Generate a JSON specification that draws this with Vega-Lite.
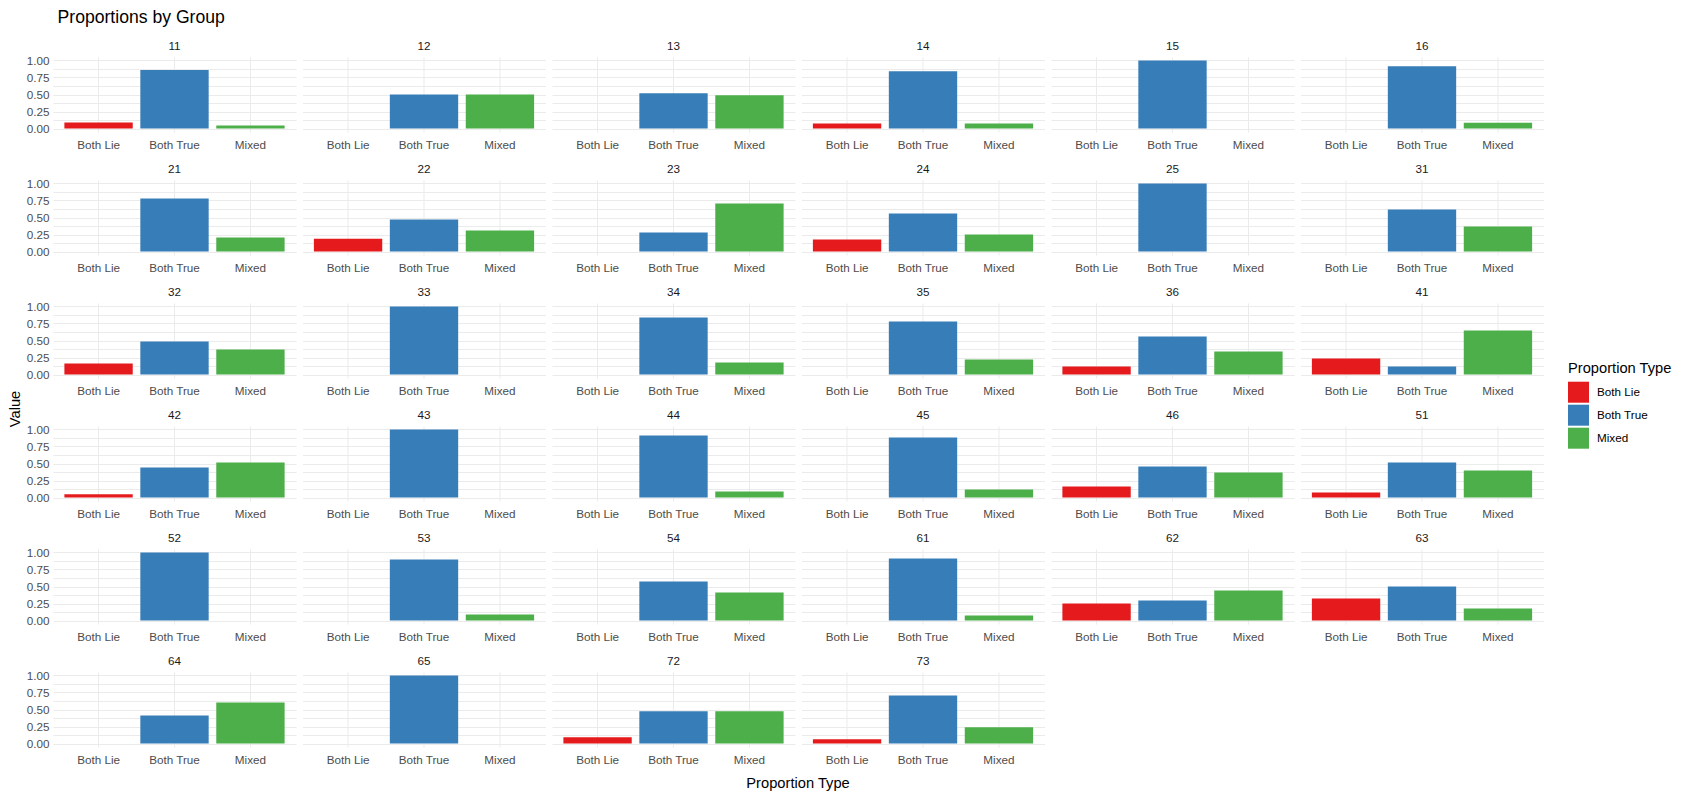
{
  "$schema": "https://vega.github.io/schema/vega-lite/v6.json",
  "padding": {"left": 7, "top": 8, "right": 5, "bottom": 5},
  "title": {"text": "Proportions by Group", "anchor": "start", "fontSize": 17.6, "fontWeight": "normal", "color": "#000000", "font": "Liberation Sans", "offset": 15, "dx": 50},
  "vconcat": [{
  "data": {"values": [
    {"group": "11", "type": "Both Lie", "value": 0.09}, {"group": "11", "type": "Both True", "value": 0.86}, {"group": "11", "type": "Mixed", "value": 0.045},
    {"group": "12", "type": "Both Lie", "value": 0}, {"group": "12", "type": "Both True", "value": 0.5}, {"group": "12", "type": "Mixed", "value": 0.5},
    {"group": "13", "type": "Both Lie", "value": 0}, {"group": "13", "type": "Both True", "value": 0.517}, {"group": "13", "type": "Mixed", "value": 0.488},
    {"group": "14", "type": "Both Lie", "value": 0.074}, {"group": "14", "type": "Both True", "value": 0.842}, {"group": "14", "type": "Mixed", "value": 0.074},
    {"group": "15", "type": "Both Lie", "value": 0}, {"group": "15", "type": "Both True", "value": 1.0}, {"group": "15", "type": "Mixed", "value": 0},
    {"group": "16", "type": "Both Lie", "value": 0}, {"group": "16", "type": "Both True", "value": 0.913}, {"group": "16", "type": "Mixed", "value": 0.087},
    {"group": "21", "type": "Both Lie", "value": 0}, {"group": "21", "type": "Both True", "value": 0.78}, {"group": "21", "type": "Mixed", "value": 0.206},
    {"group": "22", "type": "Both Lie", "value": 0.19}, {"group": "22", "type": "Both True", "value": 0.47}, {"group": "22", "type": "Mixed", "value": 0.31},
    {"group": "23", "type": "Both Lie", "value": 0}, {"group": "23", "type": "Both True", "value": 0.28}, {"group": "23", "type": "Mixed", "value": 0.706},
    {"group": "24", "type": "Both Lie", "value": 0.176}, {"group": "24", "type": "Both True", "value": 0.559}, {"group": "24", "type": "Mixed", "value": 0.25},
    {"group": "25", "type": "Both Lie", "value": 0}, {"group": "25", "type": "Both True", "value": 1.0}, {"group": "25", "type": "Mixed", "value": 0},
    {"group": "31", "type": "Both Lie", "value": 0}, {"group": "31", "type": "Both True", "value": 0.618}, {"group": "31", "type": "Mixed", "value": 0.368},
    {"group": "32", "type": "Both Lie", "value": 0.162}, {"group": "32", "type": "Both True", "value": 0.485}, {"group": "32", "type": "Mixed", "value": 0.368},
    {"group": "33", "type": "Both Lie", "value": 0}, {"group": "33", "type": "Both True", "value": 1.0}, {"group": "33", "type": "Mixed", "value": 0},
    {"group": "34", "type": "Both Lie", "value": 0}, {"group": "34", "type": "Both True", "value": 0.838}, {"group": "34", "type": "Mixed", "value": 0.176},
    {"group": "35", "type": "Both Lie", "value": 0}, {"group": "35", "type": "Both True", "value": 0.779}, {"group": "35", "type": "Mixed", "value": 0.22},
    {"group": "36", "type": "Both Lie", "value": 0.118}, {"group": "36", "type": "Both True", "value": 0.559}, {"group": "36", "type": "Mixed", "value": 0.338},
    {"group": "41", "type": "Both Lie", "value": 0.235}, {"group": "41", "type": "Both True", "value": 0.118}, {"group": "41", "type": "Mixed", "value": 0.647},
    {"group": "42", "type": "Both Lie", "value": 0.049}, {"group": "42", "type": "Both True", "value": 0.441}, {"group": "42", "type": "Mixed", "value": 0.515},
    {"group": "43", "type": "Both Lie", "value": 0}, {"group": "43", "type": "Both True", "value": 1.0}, {"group": "43", "type": "Mixed", "value": 0},
    {"group": "44", "type": "Both Lie", "value": 0}, {"group": "44", "type": "Both True", "value": 0.912}, {"group": "44", "type": "Mixed", "value": 0.088},
    {"group": "45", "type": "Both Lie", "value": 0}, {"group": "45", "type": "Both True", "value": 0.882}, {"group": "45", "type": "Mixed", "value": 0.118},
    {"group": "46", "type": "Both Lie", "value": 0.162}, {"group": "46", "type": "Both True", "value": 0.456}, {"group": "46", "type": "Mixed", "value": 0.368},
    {"group": "51", "type": "Both Lie", "value": 0.074}, {"group": "51", "type": "Both True", "value": 0.515}, {"group": "51", "type": "Mixed", "value": 0.397},
    {"group": "52", "type": "Both Lie", "value": 0}, {"group": "52", "type": "Both True", "value": 1.0}, {"group": "52", "type": "Mixed", "value": 0},
    {"group": "53", "type": "Both Lie", "value": 0}, {"group": "53", "type": "Both True", "value": 0.897}, {"group": "53", "type": "Mixed", "value": 0.088},
    {"group": "54", "type": "Both Lie", "value": 0}, {"group": "54", "type": "Both True", "value": 0.574}, {"group": "54", "type": "Mixed", "value": 0.412},
    {"group": "61", "type": "Both Lie", "value": 0}, {"group": "61", "type": "Both True", "value": 0.912}, {"group": "61", "type": "Mixed", "value": 0.074},
    {"group": "62", "type": "Both Lie", "value": 0.25}, {"group": "62", "type": "Both True", "value": 0.294}, {"group": "62", "type": "Mixed", "value": 0.441},
    {"group": "63", "type": "Both Lie", "value": 0.324}, {"group": "63", "type": "Both True", "value": 0.5}, {"group": "63", "type": "Mixed", "value": 0.176},
    {"group": "64", "type": "Both Lie", "value": 0}, {"group": "64", "type": "Both True", "value": 0.412}, {"group": "64", "type": "Mixed", "value": 0.603},
    {"group": "65", "type": "Both Lie", "value": 0}, {"group": "65", "type": "Both True", "value": 1.0}, {"group": "65", "type": "Mixed", "value": 0},
    {"group": "72", "type": "Both Lie", "value": 0.093}, {"group": "72", "type": "Both True", "value": 0.475}, {"group": "72", "type": "Mixed", "value": 0.475},
    {"group": "73", "type": "Both Lie", "value": 0.064}, {"group": "73", "type": "Both True", "value": 0.706}, {"group": "73", "type": "Mixed", "value": 0.24}
  ]},
  "title": {"text": "Value", "orient": "left", "anchor": "middle", "frame": "bounds", "fontSize": 14.7, "fontWeight": "normal", "color": "#000000", "font": "Liberation Sans", "offset": 4, "dx": 7},
  "facet": {"field": "group", "type": "ordinal", "title": "Proportion Type",
    "header": {"labelFontSize": 11.7, "labelColor": "#1A1A1A", "labelPadding": 4, "labelFont": "Liberation Sans",
               "titleOrient": "bottom", "titleFontSize": 14.7, "titleFontWeight": "normal", "titleColor": "#000000", "titleFont": "Liberation Sans", "titlePadding": 10}},
  "columns": 6,
  "spacing": {"row": 13, "column": 6.5},
  "spec": {
    "width": 243,
    "height": 75,
    "mark": {"type": "bar"},
    "encoding": {
      "x": {"field": "type", "type": "nominal", "sort": ["Both Lie", "Both True", "Mixed"],
            "scale": {"paddingInner": 0.1, "paddingOuter": 0.15},
            "axis": {"title": null, "labelAngle": 0, "ticks": false, "domain": false, "labelPadding": 7, "labelFontSize": 11.7, "labelColor": "#4D4D4D", "labelFont": "Liberation Sans", "grid": true, "bandPosition": 0.5, "gridColor": "#EBEBEB", "gridWidth": 1}},
      "y": {"field": "value", "type": "quantitative",
            "scale": {"domain": [-0.05, 1.05], "nice": false, "zero": false},
            "axis": {"title": null, "values": [0, 0.125, 0.25, 0.375, 0.5, 0.625, 0.75, 0.875, 1.0],
                     "labelExpr": "(datum.value * 4) % 1 == 0 ? format(datum.value, '.2f') : ''",
                     "ticks": false, "domain": false, "labelPadding": 4, "labelFontSize": 11.7, "labelColor": "#4D4D4D", "labelFont": "Liberation Sans",
                     "gridColor": "#EBEBEB", "gridWidth": 1}},
      "y2": {"datum": 0},
      "color": {"field": "type", "type": "nominal",
                "scale": {"domain": ["Both Lie", "Both True", "Mixed"], "range": ["#E41A1C", "#377EB8", "#4DAF4A"]},
                "legend": {"title": "Proportion Type", "symbolType": "square", "symbolSize": 441, "symbolStrokeWidth": 0, "symbolOpacity": 1, "rowPadding": 2, "labelOffset": 8,
                           "labelFontSize": 11.7, "labelColor": "#000000", "labelFont": "Liberation Sans",
                           "titleFontSize": 14.7, "titleFontWeight": "normal", "titleColor": "#000000", "titleFont": "Liberation Sans", "titlePadding": 6,
                           "orient": "none", "legendX": 1515, "legendY": 304}}
    }
  },
  "resolve": {"scale": {"x": "independent"}}
  }],
  "config": {"view": {"stroke": null}, "font": "Liberation Sans", "background": "#FFFFFF"}
}
